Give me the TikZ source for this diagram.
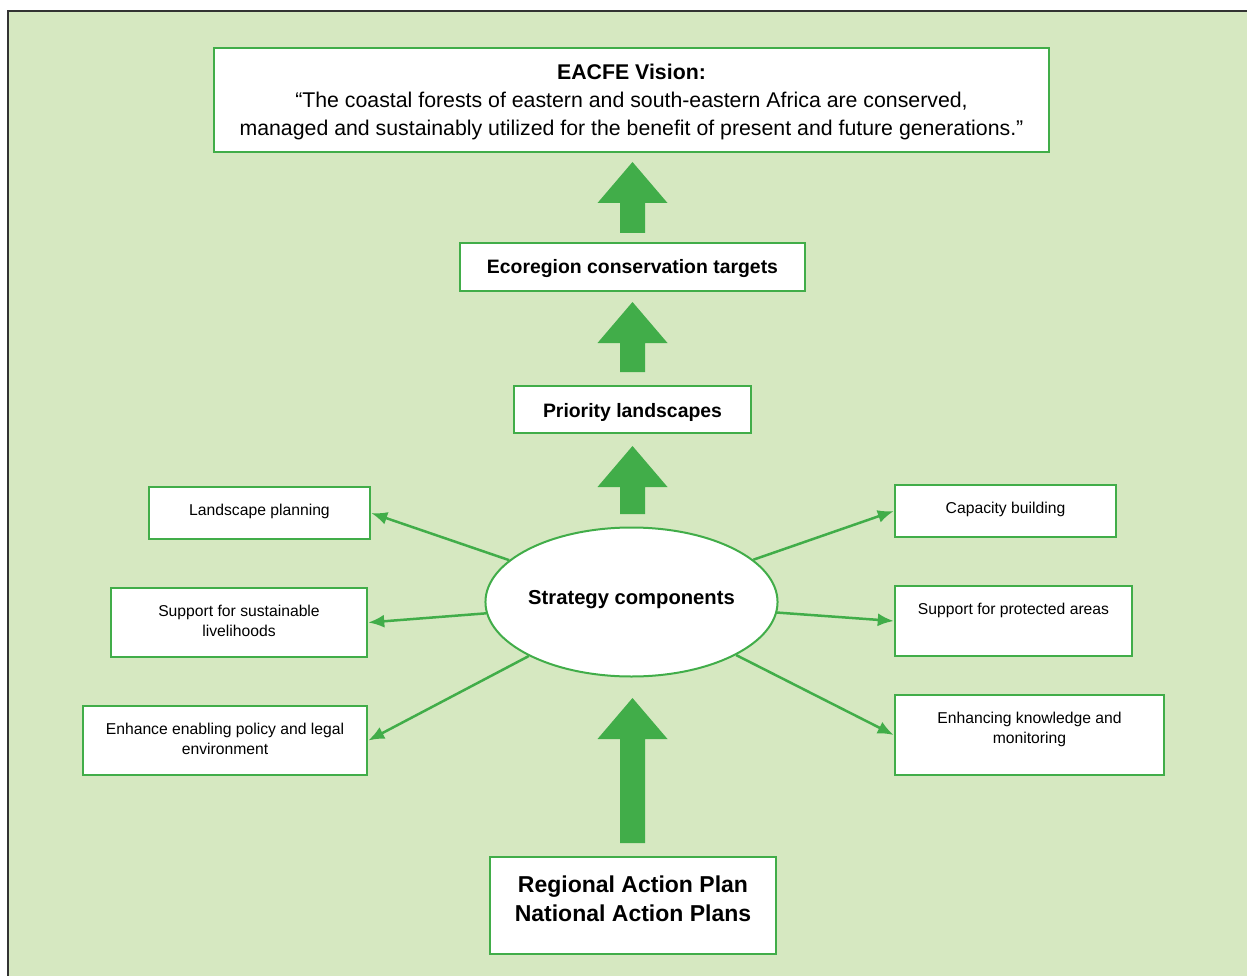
\documentclass[tikz,border=0pt]{standalone}
\usepackage{fontspec}
\setmainfont{Liberation Sans}
\usetikzlibrary{positioning,arrows.meta,shapes.geometric}
\definecolor{leaf}{RGB}{65,173,73}
\definecolor{meadow}{RGB}{214,232,193}
\tikzset{>={Latex[length=16pt,width=13pt]}}

% fat upward arrow: x of the axis, bottom of the shaft, tip
\newcommand{\blockarrow}[3]{%
  \fill[leaf] (#1-12.5,#2) -- (#1-12.5,#3+41) -- (#1-35,#3+41) -- (#1,#3)
    -- (#1+35,#3+41) -- (#1+12.5,#3+41) -- (#1+12.5,#2) -- cycle;}

\begin{document}
\begin{tikzpicture}[x=1pt,y=-1pt,
  box/.style={draw=leaf,line width=2.5pt,fill=white,align=center,inner sep=0pt},
  item/.style={box,font=\fontsize{15.7}{20.5}\selectfont},
  head/.style={box,text height=31pt,font=\bfseries\fontsize{19.4}{24}\selectfont},
  link/.style={->,draw=leaf,line width=2.5pt}]
  \useasboundingbox (0,0) rectangle (1247,976);
  \clip (0,0) rectangle (1247,976);
  \fill[meadow] (8,11) rectangle (1260,990);
  \draw[line width=1.5pt,black!80] (8,990) -- (8,11) -- (1260,11);

  \node[box,minimum width=835pt,text height=88pt,text depth=16pt,
        font=\fontsize{21.3}{28}\selectfont] (vision) at (631.5,100)
    {\textbf{EACFE Vision:}\\
     “The coastal forests of eastern and south-eastern Africa are conserved,\\
     managed and sustainably utilized for the benefit of present and future generations.”};
  \node[head,minimum width=345pt,text depth=17pt] (eco) at (632.5,267)
    {Ecoregion conservation targets};
  \node[head,minimum width=237pt,text depth=16pt] (prio) at (632.5,409.5)
    {Priority landscapes};
  \node[ellipse,draw=leaf,line width=2pt,fill=white,inner sep=0pt,
        minimum width=290pt,minimum height=149pt,text height=14pt,text depth=10pt,
        font=\bfseries\fontsize{20.2}{24}\selectfont] (sc) at (631.5,602)
    {Strategy components};
  \node[box,minimum width=286pt,text height=64pt,text depth=33pt,
        font=\bfseries\fontsize{23}{29}\selectfont] (plans) at (633,905.5)
    {Regional Action Plan\\National Action Plans};

  % components on the left
  \node[item,minimum width=221pt,text height=28pt,text depth=24pt] (lp) at (259.5,513)
    {Landscape planning};
  \node[item,minimum width=256pt,text height=48.5pt,text depth=20.5pt] (sl) at (239,622.5)
    {Support for sustainable\\livelihoods};
  \node[item,minimum width=284pt,text height=48.5pt,text depth=20.5pt] (ep) at (225,740.5)
    {Enhance enabling policy and legal\\environment};
  % components on the right
  \node[item,minimum width=221pt,text height=28pt,text depth=24pt] (cb) at (1005.5,511)
    {Capacity building};
  \node[item,minimum width=237pt,text height=28pt,text depth=42pt] (pa) at (1013.5,621)
    {Support for protected areas};
  \node[item,minimum width=269pt,text height=48.5pt,text depth=31.5pt] (ek) at (1029.5,735)
    {Enhancing knowledge and\\monitoring};

  \blockarrow{632.5}{233}{162}
  \blockarrow{632.5}{372}{302}
  \blockarrow{632.5}{514}{446}
  \blockarrow{632.5}{843}{698}

  \draw[link] (sc) -- (lp.east);
  \draw[link] (sc) -- (sl.east);
  \draw[link] (sc) -- (ep.east);
  \draw[link] (sc) -- (cb.west);
  \draw[link] (sc) -- (pa.west);
  \draw[link] (sc) -- (ek.west);
\end{tikzpicture}
\end{document}
